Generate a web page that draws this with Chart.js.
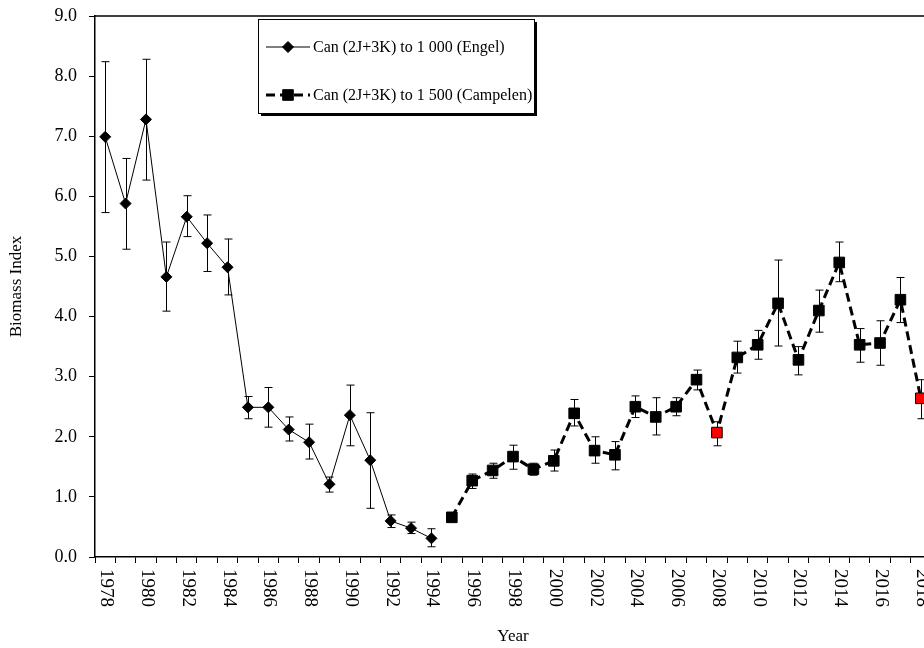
<!DOCTYPE html>
<html lang="en">
<head>
  <meta charset="utf-8"/>
  <title>Biomass Index</title>
  <script src="https://cdn.jsdelivr.net/npm/chart.js"></script>
  <style>
    html, body {
      margin: 0;
      padding: 0;
      overflow: hidden;
      background: #fff;
    }
    #chart {
      width: 940px;
      height: 648px;
    }
  </style>
</head>
<body>
<div id="chart">
  <canvas id="my_chart"></canvas>
</div>

<script>
var years = [1978, 1979, 1980, 1981, 1982, 1983, 1984, 1985, 1986, 1987, 1988, 1989, 1990,
             1991, 1992, 1993, 1994, 1995, 1996, 1997, 1998, 1999, 2000, 2001, 2002, 2003,
             2004, 2005, 2006, 2007, 2008, 2009, 2010, 2011, 2012, 2013, 2014, 2015, 2016,
             2017, 2018];

// Engel series, 1978-1994
var engel     = [6.99, 5.88, 7.28, 4.66, 5.66, 5.22, 4.82, 2.49, 2.49, 2.12, 1.91, 1.21, 2.36, 1.61, 0.60, 0.48, 0.31];
var engelLow  = [5.73, 5.12, 6.27, 4.09, 5.33, 4.75, 4.36, 2.30, 2.16, 1.93, 1.63, 1.08, 1.85, 0.81, 0.49, 0.39, 0.17];
var engelHigh = [8.24, 6.63, 8.28, 5.24, 6.01, 5.69, 5.29, 2.67, 2.82, 2.33, 2.21, 1.33, 2.86, 2.40, 0.70, 0.58, 0.47];

// Campelen series, 1995-2018
var campelen     = [0.66, 1.27, 1.44, 1.67, 1.46, 1.60, 2.39, 1.77, 1.70, 2.50, 2.33, 2.50, 2.95, 2.07, 3.32, 3.53, 4.22, 3.28, 4.10, 4.90, 3.53, 3.56, 4.28, 2.64];
var campelenLow  = [0.60, 1.14, 1.31, 1.46, 1.36, 1.43, 2.18, 1.56, 1.45, 2.32, 2.03, 2.35, 2.78, 1.85, 3.06, 3.29, 3.51, 3.03, 3.74, 4.58, 3.24, 3.19, 3.90, 2.30];
var campelenHigh = [0.72, 1.38, 1.56, 1.86, 1.56, 1.78, 2.62, 2.00, 1.92, 2.68, 2.65, 2.65, 3.11, 2.25, 3.59, 3.77, 4.94, 3.50, 4.44, 5.24, 3.80, 3.93, 4.65, 2.95];

var redYears = [2008, 2018];

var engelLabel = 'Can (2J+3K) to 1 000 (Engel)';
var campelenLabel = 'Can (2J+3K) to 1 500 (Campelen)';

var FONT = '"Liberation Serif", "Times New Roman", serif';

// place a short series on the full year axis
function onYears(values, firstYear) {
  var start = years.indexOf(firstYear);
  return years.map(function (yr, i) {
    var k = i - start;
    return (k >= 0 && k < values.length) ? values[k] : null;
  });
}

const errorBars = {
  id: 'errorBars',
  beforeDatasetsDraw(chart) {
    const ctx = chart.ctx;
    const ys = chart.scales.y;
    ctx.save();
    ctx.strokeStyle = '#000';
    ctx.lineWidth = 1;
    chart.data.datasets.forEach((ds, i) => {
      chart.getDatasetMeta(i).data.forEach((pt, j) => {
        const lo = ds.errLow[j], hi = ds.errHigh[j];
        if (lo == null || hi == null) return;
        const x = Math.round(pt.x) + 0.5;
        const y1 = ys.getPixelForValue(lo), y2 = ys.getPixelForValue(hi);
        ctx.beginPath();
        ctx.moveTo(x, y1); ctx.lineTo(x, y2);
        ctx.moveTo(x - 4, y1); ctx.lineTo(x + 4, y1);
        ctx.moveTo(x - 4, y2); ctx.lineTo(x + 4, y2);
        ctx.stroke();
      });
    });
    ctx.restore();
  }
};

// year labels read top to bottom, every second year
const yearLabels = {
  id: 'yearLabels',
  afterDraw(chart) {
    const ctx = chart.ctx;
    const sx = chart.scales.x;
    ctx.save();
    ctx.font = '19px ' + FONT;
    ctx.fillStyle = '#000';
    ctx.textAlign = 'left';
    ctx.textBaseline = 'middle';
    years.forEach((yr, i) => {
      if (yr % 2 !== 0) return;
      ctx.save();
      ctx.translate(sx.getPixelForValue(i) + 1, chart.chartArea.bottom + 12);
      ctx.rotate(Math.PI / 2);
      ctx.fillText(String(yr), 0, 0);
      ctx.restore();
    });
    // top frame line
    ctx.strokeStyle = '#000';
    ctx.lineWidth = 1.5;
    ctx.beginPath();
    ctx.moveTo(chart.chartArea.left, chart.chartArea.top);
    ctx.lineTo(chart.chartArea.right, chart.chartArea.top);
    ctx.stroke();
    ctx.restore();
  }
};

function marker(ctx, style, x, y, r, fill) {
  ctx.beginPath();
  if (style === 'rectRot') {
    ctx.moveTo(x, y - r); ctx.lineTo(x + r, y); ctx.lineTo(x, y + r); ctx.lineTo(x - r, y);
    ctx.closePath();
  } else {
    const s = r * Math.SQRT1_2;
    ctx.rect(x - s, y - s, 2 * s, 2 * s);
  }
  ctx.fillStyle = fill;
  ctx.fill();
  ctx.strokeStyle = '#000';
  ctx.lineWidth = 1;
  ctx.stroke();
}

const boxLegend = {
  id: 'boxLegend',
  afterDraw(chart) {
    const ctx = chart.ctx;
    const L = 258, T = 19, W = 276, H = 94;
    ctx.save();
    ctx.fillStyle = '#000';
    ctx.fillRect(L + 3, T + 3, W, H);
    ctx.fillStyle = '#fff';
    ctx.fillRect(L, T, W, H);
    ctx.strokeStyle = '#000';
    ctx.lineWidth = 1;
    ctx.strokeRect(L + 0.5, T + 0.5, W, H);
    chart.data.datasets.forEach((ds, i) => {
      const y = T + 28 + i * 48;
      ctx.strokeStyle = '#000';
      ctx.lineWidth = ds.borderWidth;
      ctx.setLineDash(ds.borderDash || []);
      ctx.beginPath();
      ctx.moveTo(L + 8, y);
      ctx.lineTo(L + 52, y);
      ctx.stroke();
      ctx.setLineDash([]);
      marker(ctx, ds.pointStyle, L + 30, y, ds.pointRadius, '#000');
      ctx.fillStyle = '#000';
      ctx.font = '16px ' + FONT;
      ctx.textAlign = 'left';
      ctx.textBaseline = 'middle';
      ctx.fillText(ds.label, L + 55, y + 1);
    });
    ctx.restore();
  }
};

window.onload = function () {
  const campelenColors = onYears(campelen.map((v, k) => redYears.indexOf(1995 + k) >= 0 ? '#ff0000' : '#000'), 1995);

  const data = {
    labels: years,
    datasets: [
      {
        label: engelLabel,
        data: onYears(engel, 1978),
        errLow: onYears(engelLow, 1978),
        errHigh: onYears(engelHigh, 1978),
        borderColor: '#000',
        borderWidth: 1,
        pointStyle: 'rectRot',
        pointRadius: 5.5,
        pointBackgroundColor: '#000',
        pointBorderColor: '#000',
        pointBorderWidth: 1,
        tension: 0
      },
      {
        label: campelenLabel,
        data: onYears(campelen, 1995),
        errLow: onYears(campelenLow, 1995),
        errHigh: onYears(campelenHigh, 1995),
        borderColor: '#000',
        borderWidth: 3,
        borderDash: [9, 5],
        pointStyle: 'rect',
        pointRadius: 7.5,
        pointBackgroundColor: campelenColors,
        pointBorderColor: '#000',
        pointBorderWidth: 1,
        tension: 0
      }
    ]
  };

  const config = {
    type: 'line',
    data: data,
    plugins: [errorBars, yearLabels, boxLegend],
    options: {
      responsive: true,
      maintainAspectRatio: false,
      animation: false,
      layout: {
        padding: { top: 16, right: 9, left: 0, bottom: 0 }
      },
      plugins: {
        legend: { display: false },
        tooltip: { enabled: false }
      },
      scales: {
        x: {
          type: 'category',
          offset: true,
          grid: { offset: true, drawOnChartArea: false, drawTicks: true, tickLength: 6, color: '#000', lineWidth: 1 },
          border: { color: '#000', width: 1.5 },
          ticks: { display: false, autoSkip: false },
          title: {
            display: true,
            text: 'Year',
            color: '#000',
            font: { family: FONT, size: 17 },
            padding: { top: 0, bottom: 1 }
          },
          afterFit(scale) { scale.height = 91; }
        },
        y: {
          min: 0,
          max: 9,
          ticks: {
            stepSize: 1,
            color: '#000',
            font: { family: FONT, size: 18 },
            padding: 12,
            callback: (v) => v.toFixed(1)
          },
          grid: { drawOnChartArea: false, drawTicks: true, tickLength: 6, color: '#000', lineWidth: 1 },
          border: { color: '#000', width: 1.5 },
          title: {
            display: true,
            text: 'Biomass Index',
            color: '#000',
            font: { family: FONT, size: 17 },
            padding: { top: 6, bottom: 0 }
          },
          afterFit(scale) {
            scale.width = 95;
            scale.paddingTop = 0;
            scale.paddingBottom = 0;
          }
        }
      }
    }
  };

  const ctx = document.getElementById('my_chart').getContext('2d');
  new Chart(ctx, config);
};
</script>
</body>
</html>
